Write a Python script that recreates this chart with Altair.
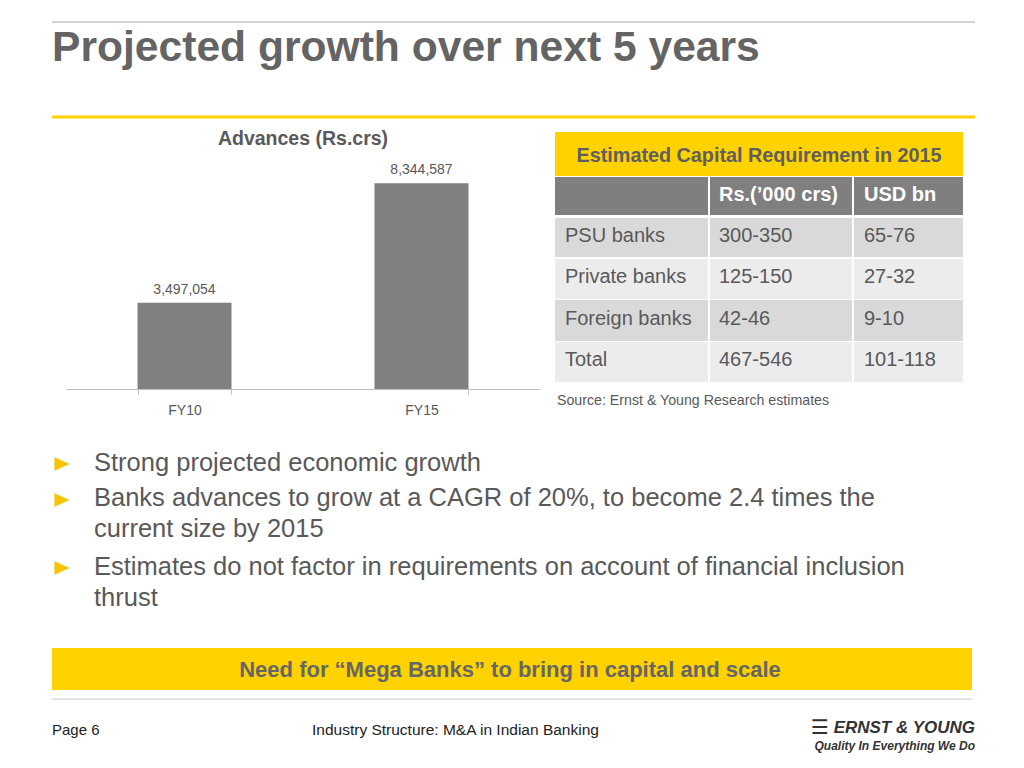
import altair as alt
import pandas as pd

# ------------------------------------------------------------------ data
TITLE = "Projected growth over next 5 years"
BAR_TITLE = "Advances (Rs.crs)"
YEARS = ["FY10", "FY15"]
ADVANCES = [3497054, 8344587]

TABLE_TITLE = "Estimated Capital Requirement in 2015"
TABLE_HEADERS = ["", "Rs.(’000 crs)", "USD bn"]
BANK_TYPES = ["PSU banks", "Private banks", "Foreign banks", "Total"]
RS_000_CRS = ["300-350", "125-150", "42-46", "467-546"]
USD_BN = ["65-76", "27-32", "9-10", "101-118"]
SOURCE = "Source: Ernst & Young Research estimates"

BULLETS = [
    ["Strong projected economic growth"],
    ["Banks advances to grow at a CAGR of 20%, to become 2.4 times the",
     "current size by 2015"],
    ["Estimates do not factor in requirements on account of financial inclusion",
     "thrust"],
]
BANNER = "Need for “Mega Banks” to bring in capital and scale"
FOOTER_PAGE = "Page 6"
FOOTER_TITLE = "Industry Structure: M&A in Indian Banking"
LOGO_MARK = "☰"
LOGO = "ERNST & YOUNG"
TAGLINE = "Quality In Everything We Do"

# ------------------------------------------------------------------ layout / style
M = 8  # page margin: reference pixel -> chart pixel
FONT = "Liberation Sans"
GREY_TXT = "#595959"
TITLE_GREY = "#646464"
YELLOW = "#ffd200"
BULLET_YELLOW = "#f5c400"
BAR_GREY = "#808080"

COL_EDGES = [(555, 708), (710, 852), (854, 963)]
COL_TEXT_X = [565, 719, 864]
ROW_EDGES = [(132, 176), (177, 215), (218, 257), (259, 299), (300, 341), (342, 382)]
ROW_BASE = [161, 201, 242, 283, 325, 366]
ROW_FILLS = [YELLOW, "#7f7f7f", "#d9d9d9", "#ececec", "#d9d9d9", "#ececec"]

ONE = pd.DataFrame({"k": [0]})


def v(p):
    return alt.value(p - M)


def txt(s, x, y, size, color=GREY_TXT, weight="normal", align="left",
        style="normal", font=FONT):
    return alt.Chart(ONE).mark_text(
        text=s, fontSize=size, color=color, fontWeight=weight, align=align,
        baseline="alphabetic", font=font, fontStyle=style
    ).encode(x=v(x), y=v(y))


def hrule(x1, x2, y, color, width):
    return alt.Chart(ONE).mark_rule(color=color, strokeWidth=width).encode(
        x=v(x1), x2=v(x2), y=v(y))


def box(x1, x2, y1, y2, color):
    return alt.Chart(ONE).mark_rect(color=color).encode(
        x=v(x1), x2=v(x2), y=v(y1), y2=v(y2))


layers = []

# header
layers.append(hrule(52, 975, 22, "#a6a6a6", 1))
layers.append(txt(TITLE, 52, 61, 42.6, color=TITLE_GREY, weight="bold"))
layers.append(hrule(52, 975, 117, YELLOW, 3))

# ------------------------------------------------------------------ bar chart
bar_df = pd.DataFrame({"year": YEARS, "adv": ADVANCES})
BASE_Y = 389
PX_PER_UNIT = (389 - 183.3) / 8344587
Y_MAX = 9000000
xenc = alt.X(
    "year:N", sort=YEARS,
    scale=alt.Scale(range=[66 - M, 540 - M], paddingInner=0.6034, paddingOuter=0.3017),
    axis=alt.Axis(title=None, orient="bottom", offset=(BASE_Y - M) - 745,
                  domainColor="#bfbfbf", tickColor="#bfbfbf", tickSize=5,
                  tickBand="extent", labelAngle=0, labelFontSize=14,
                  labelColor=GREY_TXT, labelFont=FONT, labelPadding=9),
)
yenc = alt.Y("adv:Q",
             scale=alt.Scale(domain=[0, Y_MAX],
                             range=[BASE_Y - M, BASE_Y - M - Y_MAX * PX_PER_UNIT]),
             axis=None)
bars = alt.Chart(bar_df).mark_bar(color=BAR_GREY).encode(x=xenc, y=yenc)
bar_labels = alt.Chart(bar_df).mark_text(
    dy=-9, baseline="alphabetic", fontSize=14, color=GREY_TXT, font=FONT
).encode(x=xenc, y=yenc, text=alt.Text("adv:Q", format=",d"))
layers.append(alt.layer(bars, bar_labels))
layers.append(txt(BAR_TITLE, 303, 145, 19.5, color=GREY_TXT, weight="bold", align="center"))

# ------------------------------------------------------------------ table
cells = []
texts = []
cells.append({"x0": COL_EDGES[0][0], "x1": COL_EDGES[-1][1],
              "y0": ROW_EDGES[0][0], "y1": ROW_EDGES[0][1], "fill": ROW_FILLS[0]})
for r in range(1, len(ROW_EDGES)):
    for c in range(3):
        cells.append({"x0": COL_EDGES[c][0], "x1": COL_EDGES[c][1],
                      "y0": ROW_EDGES[r][0], "y1": ROW_EDGES[r][1], "fill": ROW_FILLS[r]})
for c, h in enumerate(TABLE_HEADERS):
    if h:
        texts.append({"x": COL_TEXT_X[c], "y": ROW_BASE[1], "t": h, "kind": "head"})
for i, (b, rs, usd) in enumerate(zip(BANK_TYPES, RS_000_CRS, USD_BN)):
    for c, t in enumerate([b, rs, usd]):
        texts.append({"x": COL_TEXT_X[c], "y": ROW_BASE[2 + i], "t": t, "kind": "body"})
cells_df = pd.DataFrame(cells)
texts_df = pd.DataFrame(texts)
TX = alt.Scale(domain=[0, 1024], range=[-M, 1024 - M])
TY = alt.Scale(domain=[0, 768], range=[-M, 768 - M])
table_rects = alt.Chart(cells_df).mark_rect().encode(
    x=alt.X("x0:Q", scale=TX, axis=None), x2="x1:Q",
    y=alt.Y("y0:Q", scale=TY, axis=None), y2="y1:Q",
    color=alt.Color("fill:N", scale=None),
)
head_text = alt.Chart(texts_df[texts_df.kind == "head"]).mark_text(
    align="left", baseline="alphabetic", fontSize=20, fontWeight="bold",
    color="white", font=FONT
).encode(x=alt.X("x:Q", scale=TX, axis=None), y=alt.Y("y:Q", scale=TY, axis=None), text="t:N")
body_text = alt.Chart(texts_df[texts_df.kind == "body"]).mark_text(
    align="left", baseline="alphabetic", fontSize=20, color=GREY_TXT, font=FONT
).encode(x=alt.X("x:Q", scale=TX, axis=None), y=alt.Y("y:Q", scale=TY, axis=None), text="t:N")
layers.append(alt.layer(table_rects, head_text, body_text))
layers.append(txt(TABLE_TITLE, 759, 162, 19.8, color="#5f5f5f", weight="bold", align="center"))
layers.append(txt(SOURCE, 557, 405, 14.2))

# ------------------------------------------------------------------ bullets
BULLET_LINE_Y = [[471], [506, 537], [575, 606]]
BULLET_MARK_Y = [464, 500, 568]
TRI = "M -1 -0.9 L 1 0 L -1 0.9 Z"
for lines, ys, my in zip(BULLETS, BULLET_LINE_Y, BULLET_MARK_Y):
    layers.append(alt.Chart(ONE).mark_point(
        shape=TRI, filled=True, size=230, color=BULLET_YELLOW, opacity=1
    ).encode(x=v(62), y=v(my)))
    for line, y in zip(lines, ys):
        layers.append(txt(line, 94, y, 25.5, color=GREY_TXT))

# ------------------------------------------------------------------ banner + footer
layers.append(box(52, 972, 648, 690, YELLOW))
layers.append(txt(BANNER, 510, 677, 22, color="#666666", weight="bold", align="center"))
layers.append(hrule(52, 972, 699, "#c8c8c8", 1))
layers.append(txt(FOOTER_PAGE, 52, 735, 15, color="#222222"))
layers.append(txt(FOOTER_TITLE, 312, 735, 15.5, color="#222222"))
layers.append(txt(LOGO_MARK, 811, 734, 20, color="#333333", weight="bold", font="DejaVu Sans"))
layers.append(txt(LOGO, 975, 733, 17, color="#333333", weight="bold", align="right", style="italic"))
layers.append(txt(TAGLINE, 975, 750, 12, color="#333333", weight="bold", align="right", style="italic"))

chart = alt.layer(*layers).resolve_scale(
    x="independent", y="independent"
).properties(
    width=1000, height=745, padding=0,
    autosize=alt.AutoSizeParams(type="none"),
).configure_view(stroke=None)

chart.save("out.html", embed_options={"renderer": "svg", "actions": False})
